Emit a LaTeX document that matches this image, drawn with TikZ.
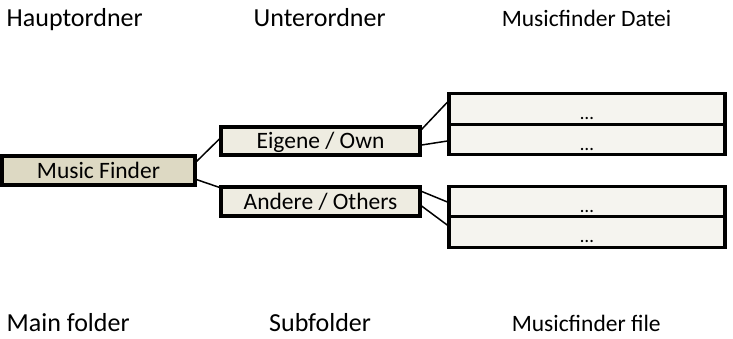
\documentclass[tikz,border=0pt]{standalone}
\usepackage{fontspec}
\setmainfont{Carlito}
\usetikzlibrary{calc}
\definecolor{mainfill}{HTML}{DDD9C3}
\definecolor{subfill}{HTML}{EEECE1}
\definecolor{filefill}{HTML}{F5F4EF}
\tikzset{
  box/.style={draw=black, line width=3.2pt, inner sep=0pt, text depth=0pt},
  mainbox/.style={box, fill=mainfill, minimum width=193pt, minimum height=29pt, text height=15.6pt, font=\fontsize{23.5}{26}\selectfont},
  subbox/.style={box, fill=subfill, minimum width=199pt, text height=15.6pt, font=\fontsize{23.5}{26}\selectfont},
  filebox/.style={box, fill=filefill, minimum width=276pt, minimum height=30.5pt, text height=21pt, font=\fontsize{19}{22}\selectfont},
  head/.style={anchor=base west, inner sep=0pt, font=\fontsize{26}{30}\selectfont},
  headsmall/.style={anchor=base west, inner sep=0pt, font=\fontsize{23.5}{28}\selectfont},
  link/.style={draw=black, line width=1.5pt}
}
\begin{document}
\begin{tikzpicture}[x=1pt,y=1pt]
\useasboundingbox (0,0) rectangle (733,-338);
% headings
\node[head] (h1) at (6.5,-26.7) {Hauptordner};
\node[head] (h2) at (253.5,-26.7) {Unterordner};
\node[headsmall] (h3) at (501.6,-26.2) {Musicfinder Datei};
\node[head] (b1) at (6.5,-331) {Main folder};
\node[head] (b2) at (269,-331) {Subfolder};
\node[headsmall] (b3) at (511.6,-331.3) {Musicfinder file};
% boxes
\node[mainbox] (mf) at (98.5,-170.5) {Music Finder};
\node[subbox, minimum height=28pt] (ei) at (320.5,-141) {Eigene / Own};
\node[subbox, minimum height=29pt] (an) at (320.5,-201.5) {Andere / Others};
\node[filebox] (f1) at (587,-109) {…};
\node[filebox] (f2) at (587,-139.5) {…};
\node[filebox] (f3) at (587,-202) {…};
\node[filebox] (f4) at (587,-232) {…};
% connectors
\draw[link] ([yshift=-7pt]mf.north east) -- ([yshift=2pt]ei.west);
\draw[link] ([yshift=7pt]mf.south east) -- ([yshift=-2pt]an.north west);
\draw[link] ([yshift=-4pt]ei.north east) -- ([yshift=-10pt]f1.north west);
\draw[link] ([yshift=-4pt]ei.east) -- ([yshift=-1.5pt]f2.west);
\draw[link] ([yshift=-6pt]an.north east) -- (f3.west);
\draw[link] ([yshift=-4.5pt]an.east) -- ([yshift=-10pt]f4.north west);
\end{tikzpicture}
\end{document}
